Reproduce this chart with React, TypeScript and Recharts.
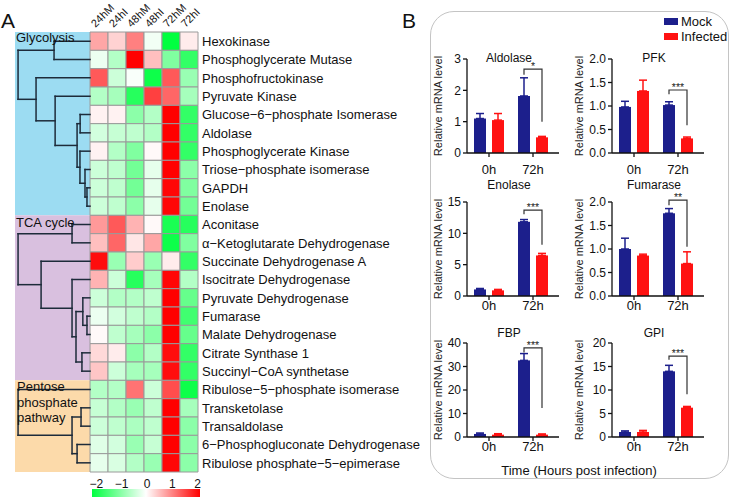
import React from "react";
import {
  ScatterChart,
  Scatter,
  XAxis,
  YAxis,
  ReferenceArea,
  ReferenceLine,
  BarChart,
  Bar,
  ErrorBar,
  LabelList,
} from "recharts";

const FONT = '"Liberation Sans", Arial, Helvetica, sans-serif';

// ---------- panel A : heatmap ----------
const conditions = ["24hM", "24hI", "48hM", "48hI", "72hM", "72hI"];

const genes = [
  "Hexokinase",
  "Phosphoglycerate Mutase",
  "Phosphofructokinase",
  "Pyruvate Kinase",
  "Glucose\u22126\u2212phosphate Isomerase",
  "Aldolase",
  "Phosphoglycerate Kinase",
  "Triose\u2212phosphate isomerase",
  "GAPDH",
  "Enolase",
  "Aconitase",
  "\u03b1\u2212Ketoglutarate Dehydrogenase",
  "Succinate Dehydrogenase A",
  "Isocitrate Dehydrogenase",
  "Pyruvate Dehydrogenase",
  "Fumarase",
  "Malate Dehydrogenase",
  "Citrate Synthase 1",
  "Succinyl\u2212CoA synthetase",
  "Ribulose\u22125\u2212phosphate isomerase",
  "Transketolase",
  "Transaldolase",
  "6\u2212Phosphogluconate Dehydrogenase",
  "Ribulose phosphate\u22125\u2212epimerase",
];

const glycolysisZ = [
  [0.7, 0.35, 1.0, -0.1, -2.0, 0.15],
  [-0.15, -0.6, 2.0, 0.5, -1.0, -1.6],
  [1.3, -0.4, -0.05, -1.9, 1.3, -0.8],
  [-0.6, -0.7, -1.7, 1.5, 1.2, -0.7],
  [0.1, 0.1, -0.9, -0.6, 2.0, -1.6],
  [-0.35, -0.45, -0.5, -0.6, 2.0, -1.6],
  [0.1, -0.6, -1.0, 0.05, 2.0, -1.6],
  [-0.4, -0.5, -1.1, -0.2, 2.0, -0.9],
  [-0.4, -0.5, -1.1, -0.2, 1.95, -1.0],
  [-0.4, -0.5, -0.9, -0.2, 1.95, -1.1],
];

const tcaZ = [
  [0.8, 1.3, 0.6, 0.05, -1.8, -1.7],
  [0.5, 1.2, 0.2, 0.7, -1.9, -1.0],
  [1.9, -0.8, 0.4, -0.8, 0.15, -1.6],
  [0.6, -0.4, -1.7, -0.7, 1.95, -0.6],
  [-0.4, -0.6, -0.6, -0.5, 2.0, -1.2],
  [-0.15, -0.35, -0.5, -0.6, 2.0, -1.5],
  [0.05, -0.5, -0.7, -0.9, 2.0, -1.2],
  [0.3, 0.15, -0.9, -0.6, 1.9, -1.6],
  [0.45, -0.4, -0.7, -0.7, 1.9, -1.6],
];

const pentoseZ = [
  [-0.6, -0.6, 1.1, -0.4, 1.4, -1.9],
  [-0.45, -0.6, -0.8, -0.5, 2.0, -0.7],
  [-0.4, -0.5, -0.65, -0.5, 2.0, -0.9],
  [-0.25, -0.35, -0.8, -0.45, 2.0, -0.9],
  [-0.2, -0.3, -0.6, -0.8, 1.95, -0.9],
];

const zScores = [...glycolysisZ, ...tcaZ, ...pentoseZ];

const pathwayRows = [
  [0, 10],
  [10, 19],
  [19, 24],
];
const pathwayColors = ["#9cdcf2", "#d9c0df", "#fcdaaa"];

// row clustering, linkage style: [left, right, height]; new nodes get ids 24, 25, ...
const linkage = [
  [0, 1, 2.0],
  [8, 9, 0.17],
  [7, 25, 0.28],
  [6, 26, 0.56],
  [4, 5, 0.55],
  [28, 27, 0.72],
  [3, 29, 1.94],
  [2, 30, 3.0],
  [24, 31, 4.0],
  [10, 11, 1.0],
  [15, 16, 0.17],
  [14, 34, 0.4],
  [17, 18, 0.45],
  [35, 36, 0.78],
  [13, 37, 1.0],
  [12, 38, 2.72],
  [33, 39, 4.0],
  [20, 21, 0.5],
  [22, 23, 0.72],
  [41, 42, 1.0],
  [19, 43, 4.0],
];

const scaleTicks = [-2, -1, 0, 1, 2];

// ---------- panel B : qPCR bars ----------
const timePoints = ["0h", "72h"];
const geneTitles = ["Aldolase", "PFK", "Enolase", "Fumarase", "FBP", "GPI"];
const mockMean = [
  [1.1, 1.82],
  [0.98, 1.02],
  [1.05, 11.84],
  [1.0, 1.76],
  [1.3, 32.6],
  [1.06, 13.97],
];
const mockSem = [
  [0.16, 0.58],
  [0.12, 0.07],
  [0.15, 0.36],
  [0.23, 0.1],
  [0.4, 2.9],
  [0.24, 1.28],
];
const infMean = [
  [1.05, 0.5],
  [1.32, 0.31],
  [0.9, 6.47],
  [0.86, 0.69],
  [1.0, 1.0],
  [1.06, 6.24],
];
const infSem = [
  [0.21, 0.03],
  [0.23, 0.03],
  [0.15, 0.33],
  [0.03, 0.25],
  [0.4, 0.3],
  [0.34, 0.26],
];
const yTickSets = [
  [0, 1, 2, 3],
  [0, 0.5, 1, 1.5, 2],
  [0, 5, 10, 15],
  [0, 0.5, 1, 1.5, 2],
  [0, 10, 20, 30, 40],
  [0, 5, 10, 15, 20],
];
const yDecimals = [0, 1, 0, 1, 0, 0];
const sigStars = ["*", "***", "***", "**", "***", "***"];
// bracket: top, left leg end, right leg end (in data units)
const sigLevels = [
  [2.68, 2.5, 1.0],
  [1.34, 1.25, 0.59],
  [13.7, 13.05, 8.16],
  [2.04, 1.93, 1.05],
  [37.9, 36, 12.3],
  [17.2, 16.45, 9.08],
];

const MOCK = "#1c1f8c";
const INF = "#ff1212";
const BAR_SIZE = 12;
const BAR_GAP = 6;

const AXIS_X = [467, 612];
const Y_AXIS_W = [57, 66];
const PLOT_TOP = [59, 202, 343];
const TITLE_Y = [58, 185, 333];
const XTICK_MARGIN = [8, 1, 1];
const PLOT_W = 92;
const PLOT_H = 94;
const TOP_PAD = 20;

function heatColor(v: number) {
  const t = Math.min(1, Math.abs(v) / 2);
  if (v < 0) {
    const r = Math.round(255 * (1 - t));
    const b = Math.round(255 * (1 - t) + 64 * t);
    return `rgb(${r},255,${b})`;
  }
  const gb = Math.round(255 * (1 - t));
  return `rgb(255,${gb},${gb})`;
}

function dendrogramSegments() {
  const pos = genes.map((_, i) => ({ x: 0, y: i + 0.5 }));
  const segs: { x: number; y: number }[][] = [];
  linkage.forEach(([a, b, h]) => {
    const pa = pos[a];
    const pb = pos[b];
    const x = -h;
    segs.push([{ x, y: pa.y }, { x, y: pb.y }]);
    segs.push([{ x: pa.x, y: pa.y }, { x, y: pa.y }]);
    segs.push([{ x: pb.x, y: pb.y }, { x, y: pb.y }]);
    pos.push({ x, y: (pa.y + pb.y) / 2 });
  });
  return segs;
}

function T({ x, cy, size, children, center, color }: any) {
  return (
    <div
      style={{
        position: "absolute",
        left: x,
        top: cy - size / 2,
        fontSize: size,
        lineHeight: `${size}px`,
        whiteSpace: "nowrap",
        color: color || "#111",
        transform: center ? "translateX(-50%)" : undefined,
      }}
    >
      {children}
    </div>
  );
}

function ColTick(p: any) {
  const x = p.x - 3.5;
  const y = p.y - 2;
  return (
    <text x={x} y={y} transform={`rotate(-45 ${x} ${y})`} fontSize={11} fontFamily={FONT} fill="#111">
      {conditions[Math.floor(p.payload.value)]}
    </text>
  );
}

function GeneTick(p: any) {
  return (
    <text x={p.x} y={p.y} dy="0.36em" fontSize={13} fontFamily={FONT} fill="#111" textAnchor="start">
      {genes[Math.floor(p.payload.value)]}
    </text>
  );
}

function Heatmap() {
  const cells: any[] = [];
  zScores.forEach((row, r) =>
    row.forEach((v, c) => cells.push({ x: c + 0.5, y: r + 0.5, r, c, v }))
  );
  const segs = dendrogramSegments();
  return (
    <div style={{ position: "absolute", left: 0, top: 0 }}>
      <ScatterChart
        width={420}
        height={497}
        margin={{ top: 2, right: 7, bottom: 25, left: 15 }}
        style={{ overflow: "visible" }}
      >
        <XAxis
          type="number"
          dataKey="x"
          orientation="top"
          domain={[-4.17, 6]}
          allowDataOverflow
          ticks={conditions.map((_, i) => i + 0.5)}
          interval={0}
          height={30}
          axisLine={false}
          tickLine={false}
          tickSize={0}
          tick={(p: any) => <ColTick {...p} />}
        />
        <YAxis
          type="number"
          dataKey="y"
          orientation="right"
          reversed
          domain={[0, 24]}
          allowDataOverflow
          ticks={genes.map((_, i) => i + 0.5)}
          interval={0}
          width={215}
          axisLine={false}
          tickLine={false}
          tickSize={0}
          tickMargin={4}
          tick={(p: any) => <GeneTick {...p} />}
        />
        {pathwayRows.map(([a, b], i) => (
          <ReferenceArea
            key={`pw-${i}`}
            x1={-4.17}
            x2={0}
            y1={a}
            y2={b}
            fill={pathwayColors[i]}
            fillOpacity={1}
            stroke="none"
          />
        ))}
        {cells.map((d) => (
          <ReferenceArea
            key={`cell-${d.r}-${d.c}`}
            x1={d.c}
            x2={d.c + 1}
            y1={d.r}
            y2={d.r + 1}
            fill={heatColor(d.v)}
            fillOpacity={1}
            stroke="#9a9a9a"
            strokeWidth={1}
          />
        ))}
        {segs.map((s, i) => (
          <ReferenceLine
            key={`dg-${i}`}
            segment={s}
            stroke="#1d2b3a"
            strokeWidth={1.5}
            strokeLinecap="square"
            ifOverflow="visible"
          />
        ))}
        <Scatter data={cells} fill="none" shape={() => <g />} isAnimationActive={false} />
      </ScatterChart>
    </div>
  );
}

function makeBracket(g: number) {
  return (props: any) => {
    if (props.index !== 1) return null;
    const vb = props.viewBox || props;
    const { x, y, width, height } = vb;
    const value = Number(props.value);
    if (!value || !height) return null;
    const base = y + height;
    const ppu = height / value;
    const [top, leftEnd, rightEnd] = sigLevels[g];
    const xl = x - BAR_GAP - width / 2;
    const xr = x + width / 2;
    const yt = base - top * ppu;
    const yl = base - leftEnd * ppu;
    const yr = base - rightEnd * ppu;
    return (
      <g>
        <path d={`M${xl},${yl} V${yt} H${xr} V${yr}`} fill="none" stroke="#333" strokeWidth={1.2} />
        <text x={(xl + xr) / 2} y={yt + 1} textAnchor="middle" fontSize={10.5} fontFamily={FONT} fill="#222">
          {sigStars[g]}
        </text>
      </g>
    );
  };
}

function GeneChart({ g }: { g: number }) {
  const col = g % 2;
  const row = Math.floor(g / 2);
  const axisX = AXIS_X[col];
  const yW = Y_AXIS_W[col];
  const plotTop = PLOT_TOP[row];
  const data = timePoints.map((t, i) => ({
    time: t,
    mock: mockMean[g][i],
    mockErr: [0, mockSem[g][i]],
    inf: infMean[g][i],
    infErr: [0, infSem[g][i]],
  }));
  const ticks = yTickSets[g];
  const yMax = ticks[ticks.length - 1];
  return (
    <>
      <div style={{ position: "absolute", left: axisX - yW, top: plotTop - TOP_PAD }}>
        <BarChart
          width={yW + PLOT_W + 4}
          height={TOP_PAD + PLOT_H + 30}
          data={data}
          margin={{ top: TOP_PAD, right: 4, left: 0, bottom: 0 }}
          barSize={BAR_SIZE}
          barGap={BAR_GAP}
        >
          <XAxis
            dataKey="time"
            height={30}
            padding={{ left: 0, right: 4 }}
            axisLine={{ stroke: "#111", strokeWidth: 1.3 }}
            tickLine={{ stroke: "#111", strokeWidth: 1.3 }}
            tickSize={4}
            tickMargin={XTICK_MARGIN[row]}
            tick={{ fontSize: 13, fill: "#111", fontFamily: FONT }}
          />
          <YAxis
            width={yW}
            domain={[0, yMax]}
            ticks={ticks}
            interval={0}
            axisLine={{ stroke: "#111", strokeWidth: 1.3 }}
            tickLine={{ stroke: "#111", strokeWidth: 1.3 }}
            tickSize={4}
            tickMargin={2}
            tickFormatter={(v: number) => v.toFixed(yDecimals[g])}
            tick={{ fontSize: 12, fill: "#111", fontFamily: FONT }}
            label={{
              value: "Relative mRNA level",
              angle: -90,
              position: "center",
              style: { fontSize: 11, fill: "#222", fontFamily: FONT },
            }}
          />
          <Bar dataKey="mock" fill={MOCK} isAnimationActive={false}>
            <ErrorBar dataKey="mockErr" direction="y" width={4} stroke={MOCK} strokeWidth={1.5} isAnimationActive={false} />
          </Bar>
          <Bar dataKey="inf" fill={INF} isAnimationActive={false}>
            <ErrorBar dataKey="infErr" direction="y" width={4} stroke={INF} strokeWidth={1.5} isAnimationActive={false} />
            <LabelList dataKey="inf" content={makeBracket(g)} />
          </Bar>
        </BarChart>
      </div>
      <T x={axisX + PLOT_W / 2 - 4} cy={TITLE_Y[row]} size={12} center>
        {geneTitles[g]}
      </T>
    </>
  );
}

export default function App() {
  return (
    <div
      style={{
        position: "absolute",
        left: 0,
        top: 0,
        width: 733,
        height: 497,
        background: "#fff",
        fontFamily: FONT,
        overflow: "hidden",
      }}
    >
      <Heatmap />
      <T x={1} cy={20.5} size={21}>A</T>
      <T x={16} cy={37} size={13}>Glycolysis</T>
      <T x={16} cy={222} size={13}>TCA cycle</T>
      <T x={17} cy={386} size={13}>Pentose</T>
      <T x={17} cy={402} size={13}>phosphate</T>
      <T x={17} cy={417} size={13}>pathway</T>

      {/* colour key */}
      <div
        style={{
          position: "absolute",
          left: 92,
          top: 489,
          width: 108,
          height: 8,
          background: "linear-gradient(to right, rgb(0,255,64), #ffffff 50%, rgb(255,0,0))",
        }}
      />
      {scaleTicks.map((t) => (
        <T key={t} x={147 + t * 25.3} cy={484} size={12} center>
          {t < 0 ? `\u2212${-t}` : `${t}`}
        </T>
      ))}

      {/* panel B */}
      <T x={402} cy={20} size={21}>B</T>
      <div
        style={{
          position: "absolute",
          left: 430,
          top: 11,
          width: 297,
          height: 466,
          border: "1.5px solid #c4c4c4",
          borderRadius: 24,
        }}
      />
      {geneTitles.map((_, g) => (
        <GeneChart key={g} g={g} />
      ))}
      <div style={{ position: "absolute", left: 664, top: 18, width: 14, height: 7, background: MOCK }} />
      <T x={681} cy={21} size={13}>Mock</T>
      <div style={{ position: "absolute", left: 664, top: 33, width: 14, height: 7, background: INF }} />
      <T x={681} cy={36} size={13}>Infected</T>
      <T x={579} cy={470} size={13} center>
        Time (Hours post infection)
      </T>
    </div>
  );
}
